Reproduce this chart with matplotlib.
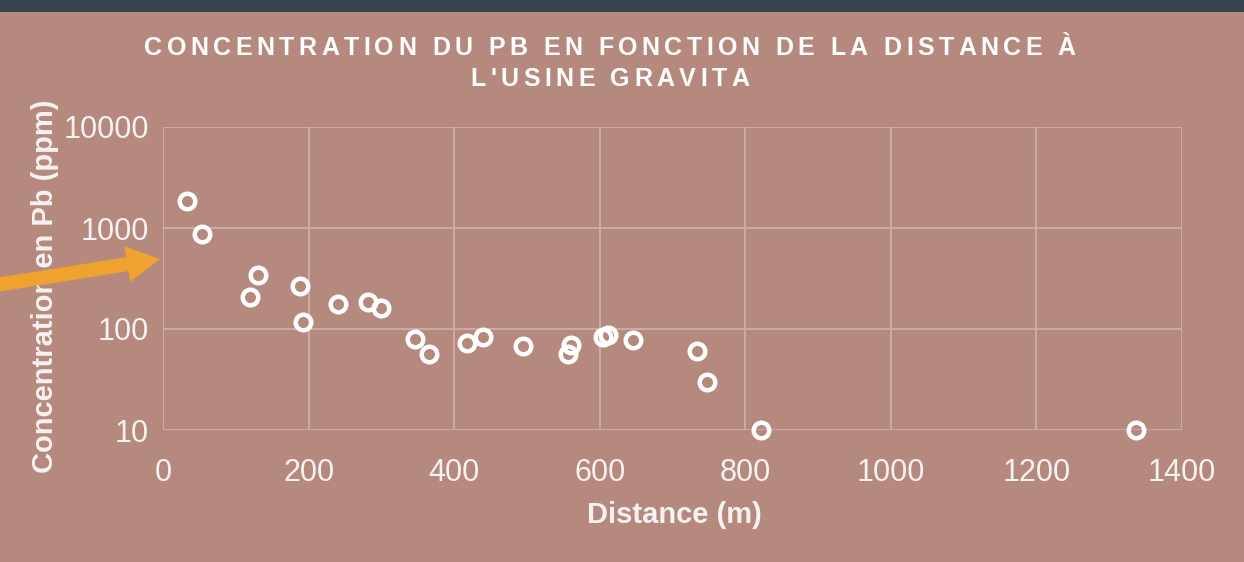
import matplotlib
matplotlib.use("Agg")
import matplotlib.pyplot as plt
from matplotlib.patches import Rectangle, FancyArrow
from matplotlib.transforms import IdentityTransform
from matplotlib.font_manager import FontProperties, findfont, get_font

# ---- data ----
distance_m = [33, 54, 130, 119, 188, 193, 241, 281, 300, 346, 365, 418, 439, 494,
              556, 561, 604, 612, 646, 734, 747, 822, 1337]
pb_ppm = [1850, 865, 345, 207, 267, 118, 176, 184, 163, 79, 57, 72, 84, 68,
          56, 70, 84, 88, 78, 60, 30, 10, 10]
x_ticks = [0, 200, 400, 600, 800, 1000, 1200, 1400]
y_ticks = [10, 100, 1000, 10000]
y_tick_labels = ["10", "100", "1000", "10000"]
title_lines = ["CONCENTRATION DU PB EN FONCTION DE LA DISTANCE À", "L'USINE GRAVITA"]
x_label = "Distance (m)"
y_label = "Concentration en Pb (ppm)"

BG = "#B5897D"
GRID = "#CFAEA6"
TXT = "#F6F2F1"
FAM = ["Liberation Sans", "DejaVu Sans"]

W, H = 1244, 562
fig = plt.figure(figsize=(W / 100, H / 100), dpi=100, facecolor=BG)
ax = fig.add_axes([163 / W, 1 - 430 / H, (1182 - 163) / W, (430 - 127) / H])
ax.set_facecolor(BG)

ax.set_yscale("log")
ax.set_xlim(0, 1400)
ax.set_ylim(10, 10000)
ax.set_xticks(x_ticks)
ax.set_xticklabels([str(v) for v in x_ticks])
ax.set_yticks(y_ticks)
ax.set_yticklabels(y_tick_labels)
ax.yaxis.set_minor_locator(matplotlib.ticker.NullLocator())
for s in ax.spines.values():
    s.set_visible(False)
ax.grid(True, color=GRID, linewidth=1.3)
ax.set_axisbelow(True)
ax.tick_params(length=0, labelsize=22, labelcolor=TXT)
ax.tick_params(axis="y", pad=10)
ax.tick_params(axis="x", pad=20)
for lab in ax.get_xticklabels() + ax.get_yticklabels():
    lab.set_family(FAM)

ax.plot(distance_m, pb_ppm, linestyle="none", marker="o", markersize=11.2,
        markerfacecolor="none", markeredgecolor="white", markeredgewidth=3.2,
        clip_on=False, zorder=3)

# axis labels
fig.text(674 / W, 1 - 515 / H, x_label, ha="center", va="center", fontsize=21,
         fontweight="bold", color=TXT, family=FAM)
fig.text(45 / W, 1 - 286 / H, y_label, ha="center", va="center", rotation=90,
         fontsize=21, fontweight="bold", color=TXT, family=FAM)

# top dark band
fig.patches.append(Rectangle((0, 1 - 12 / H), 1, 12 / H, transform=fig.transFigure,
                             facecolor="#37434F", edgecolor="none", zorder=5))

# letter-spaced title
fp = FontProperties(family=FAM, weight="bold", size=18)
font = get_font(findfont(fp))
font.set_size(18, 100)
spacing = 4.4
cx = 610
baselines = [55, 86]
for line, base in zip(title_lines, baselines):
    advs = []
    for ch in line:
        g = font.load_char(ord(ch))
        advs.append(g.linearHoriAdvance / 65536)
    total = sum(advs) + spacing * (len(line) - 1)
    x = cx - total / 2
    for ch, a in zip(line, advs):
        if ch != " ":
            fig.text(x / W, 1 - base / H, ch, ha="left", va="baseline", fontsize=18,
                     fontweight="bold", color="white", family=FAM)
        x += a + spacing

# orange arrow (pixel coordinates)
x0, y0 = -10, H - 286
x1, y1 = 160, H - 259
arr = FancyArrow(x0, y0, x1 - x0, y1 - y0, width=14, head_width=36, head_length=33,
                 length_includes_head=True, transform=IdentityTransform(),
                 facecolor="#F0A22E", edgecolor="none", zorder=10)
fig.patches.append(arr)

fig.savefig("out.png", dpi=100, facecolor=BG)
